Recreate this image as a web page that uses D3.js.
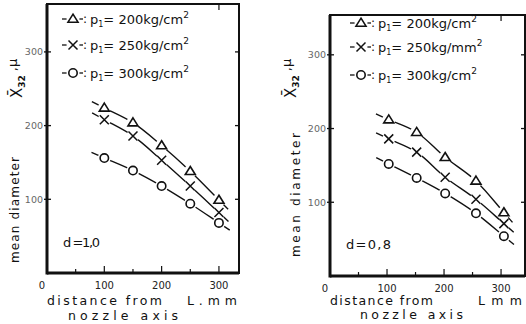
<!DOCTYPE html>
<html><head><meta charset="utf-8">
<script src="https://cdn.jsdelivr.net/npm/d3@7/dist/d3.min.js"></script>
<style>
html,body{margin:0;padding:0;background:#fff;}
svg{display:block;}
text{font-family:"DejaVu Sans",sans-serif;fill:#111;}
</style></head>
<body>
<svg id="c" width="526" height="324"></svg>
<script>
// ---- data ----
const leftX = [100, 150, 200, 250, 300];
const leftTri = [224, 204, 173, 138, 99];
const leftCross = [208, 186, 153, 118, 82];
const leftCirc = [156, 139, 118, 94, 68];

const rightX = [103, 152, 202, 256, 305];
const rightTri = [212, 195, 161, 129, 86];
const rightCross = [186, 168, 134, 104, 71];
const rightCirc = [152, 133, 112, 85, 54];

const yTicks = [100, 200, 300];
const xTicks = [0, 100, 200, 300];
const xMinor = [50, 150, 250];
const leftLegend = ["200kg/cm", "250kg/cm", "300kg/cm"];
const rightLegend = ["200kg/cm", "250kg/mm", "300kg/cm"];
const markerTypes = ["tri", "cross", "circ"];

const svg = d3.select("#c");

function marker(g, type, cx, cy, halo) {
  if (halo) g.append("circle").attr("cx", cx).attr("cy", cy).attr("r", 6.5).attr("fill", "#fff");
  if (type === "tri") {
    const h = 8, w = 10;
    g.append("path").attr("d", `M${cx},${cy - h * 0.6}L${cx + w / 2},${cy + h * 0.4}L${cx - w / 2},${cy + h * 0.4}Z`)
      .attr("fill", "#fff").attr("stroke", "#111").attr("stroke-width", 1.6);
  } else if (type === "circ") {
    g.append("circle").attr("cx", cx).attr("cy", cy).attr("r", 4.2)
      .attr("fill", "#fff").attr("stroke", "#111").attr("stroke-width", 1.6);
  } else {
    const s = 4.5;
    g.append("path").attr("d", `M${cx - s},${cy - s}L${cx + s},${cy + s}M${cx - s},${cy + s}L${cx + s},${cy - s}`)
      .attr("stroke", "#111").attr("stroke-width", 1.5).attr("fill", "none");
  }
}

function txt(g, x, y, s, size, anchor, len, rot) {
  const t = g.append("text").attr("x", x).attr("y", y).attr("font-size", size)
    .attr("text-anchor", anchor || "start").text(s);
  if (len) t.attr("textLength", len).attr("lengthAdjust", "spacing");
  if (rot) t.attr("transform", `rotate(-90,${x},${y})`);
  return t;
}

function panel(cfg) {
  const g = svg.append("g");
  const x = d3.scaleLinear().domain([0, cfg.xMax]).range([cfg.x0, cfg.x1]);
  const y = d3.scaleLinear().domain([0, cfg.yMax]).range([cfg.y0, cfg.y1]);

  // frame
  g.append("rect").attr("x", cfg.x0).attr("y", cfg.y1).attr("width", cfg.x1 - cfg.x0).attr("height", cfg.y0 - cfg.y1)
    .attr("fill", "none").attr("stroke", "#111").attr("stroke-width", 2);
  g.append("line").attr("x1", cfg.x0).attr("x2", cfg.x0).attr("y1", cfg.y1).attr("y2", cfg.y0 + 1.5)
    .attr("stroke", "#111").attr("stroke-width", 3);
  g.append("line").attr("x1", cfg.x0).attr("x2", cfg.x1).attr("y1", cfg.y0).attr("y2", cfg.y0)
    .attr("stroke", "#111").attr("stroke-width", 3);

  // left axis ticks (cross the axis) and labels
  yTicks.forEach(v => {
    g.append("line").attr("x1", cfg.x0 - 3).attr("x2", cfg.x0 + 4).attr("y1", y(v)).attr("y2", y(v))
      .attr("stroke", "#111").attr("stroke-width", 1.3);
    g.append("line").attr("x1", cfg.x1 - 4).attr("x2", cfg.x1).attr("y1", y(v)).attr("y2", y(v))
      .attr("stroke", "#111").attr("stroke-width", 1.3);
    txt(g, cfg.x0 - 4, y(v) + 3.5, String(v), 9.5, "end").style("fill", "#666");
  });
  // bottom ticks
  xTicks.filter(v => v > 0).forEach(v => {
    g.append("line").attr("x1", x(v)).attr("x2", x(v)).attr("y1", cfg.y0).attr("y2", cfg.y0 - 7)
      .attr("stroke", "#111").attr("stroke-width", 1.2);
  });
  xMinor.forEach(v => {
    g.append("line").attr("x1", x(v)).attr("x2", x(v)).attr("y1", cfg.y0).attr("y2", cfg.y0 - 4)
      .attr("stroke", "#111").attr("stroke-width", 1.2);
  });
  // top tick at 300
  g.append("line").attr("x1", x(300)).attr("x2", x(300)).attr("y1", cfg.y1).attr("y2", cfg.y1 + 6)
    .attr("stroke", "#111").attr("stroke-width", 1.2);
  xTicks.forEach(v => {
    txt(g, x(v) + (v === 0 ? -5 : 0), cfg.xLabY, String(v), 10, "middle").style("fill", "#222");
  });

  // series
  const series = [cfg.tri, cfg.cross, cfg.circ];
  const line = d3.line().curve(d3.curveCatmullRom.alpha(0.5));
  series.forEach((vals, si) => {
    const pts = vals.map((v, i) => [x(cfg.xs[i]), y(v)]);
    const ext = (a, b, L) => {
      const dx = a[0] - b[0], dy = a[1] - b[1], d = Math.hypot(dx, dy);
      return [a[0] + dx / d * L, a[1] + dy / d * L];
    };
    const all = [ext(pts[0], pts[1], 14), ...pts, ext(pts[pts.length - 1], pts[pts.length - 2], 13)];
    g.append("path").attr("d", line(all)).attr("fill", "none").attr("stroke", "#111").attr("stroke-width", 1.4);
    pts.forEach(p => marker(g, markerTypes[si], p[0], p[1], true));
  });

  // legend
  cfg.legend.forEach((lab, i) => {
    const ly = cfg.legY[i];
    const mx = cfg.legX + 11;
    g.append("line").attr("x1", cfg.legX).attr("x2", cfg.legX + 21).attr("y1", ly).attr("y2", ly)
      .attr("stroke", "#111").attr("stroke-width", 1.3);
    marker(g, markerTypes[i], mx, ly, true);
    txt(g, cfg.legX + 21, ly + 4, ":", 12, "start");
    const t = g.append("text").attr("x", cfg.legX + 28).attr("y", ly + 5).attr("font-size", 13);
    t.append("tspan").text("p");
    t.append("tspan").attr("dy", 3).attr("font-size", 8).text("1");
    t.append("tspan").attr("dy", -3).text("= " + lab);
    t.append("tspan").attr("dy", -6).attr("font-size", 9).text("2");
  });

  // d label
  txt(g, cfg.dX, cfg.dY, cfg.dText, 13, "start", cfg.dLen);

  // y label
  txt(g, cfg.ylabX, cfg.ylabY, "mean diameter", 12, "middle", cfg.ylabLen, true);
  const yt = g.append("text").attr("x", cfg.symX).attr("y", cfg.symY).attr("font-size", 15)
    .attr("transform", `rotate(-90,${cfg.symX},${cfg.symY})`);
  yt.append("tspan").text("X\u0304");
  yt.append("tspan").attr("dy", 3).attr("font-size", 9).attr("font-weight", "bold").text("32");
  yt.append("tspan").attr("dy", -8).attr("dx", 4).attr("font-size", 13).text(",\u03bc");

  // x label
  txt(g, cfg.xl1X, cfg.xl1Y, "distance from", 12.5, "start", cfg.xl1Len);
  txt(g, cfg.lmmX, cfg.xl1Y, cfg.lmmText, 12.5, "start", cfg.lmmLen);
  txt(g, cfg.xl2X, cfg.xl2Y, "nozzle axis", 12.5, "start", cfg.xl2Len);
}

panel({
  x0: 47, x1: 239, xMax: 335, y0: 273, y1: 4, yMax: 365,
  xs: leftX, tri: leftTri, cross: leftCross, circ: leftCirc,
  legend: leftLegend, legX: 62, legY: [19, 45, 73],
  xLabY: 289,
  dX: 63, dY: 247, dText: "d =1,0", dLen: 37,
  ylabX: 19, ylabY: 210, ylabLen: 106,
  symX: 22, symY: 98,
  xl1X: 47, xl1Y: 305, xl1Len: 115,
  lmmX: 187, lmmText: "L.mm", lmmLen: 50,
  xl2X: 68, xl2Y: 320, xl2Len: 110
});

panel({
  x0: 330, x1: 525, xMax: 342, y0: 276, y1: 15, yMax: 354,
  xs: rightX, tri: rightTri, cross: rightCross, circ: rightCirc,
  legend: rightLegend, legX: 350, legY: [23, 47, 75],
  xLabY: 292,
  dX: 346, dY: 249, dText: "d=0,8", dLen: 45,
  ylabX: 300, ylabY: 195, ylabLen: 124,
  symX: 296, symY: 98,
  xl1X: 330, xl1Y: 305, xl1Len: 103,
  lmmX: 478, lmmText: "L m m", lmmLen: 44,
  xl2X: 360, xl2Y: 319, xl2Len: 103
});
</script>
</body></html>
